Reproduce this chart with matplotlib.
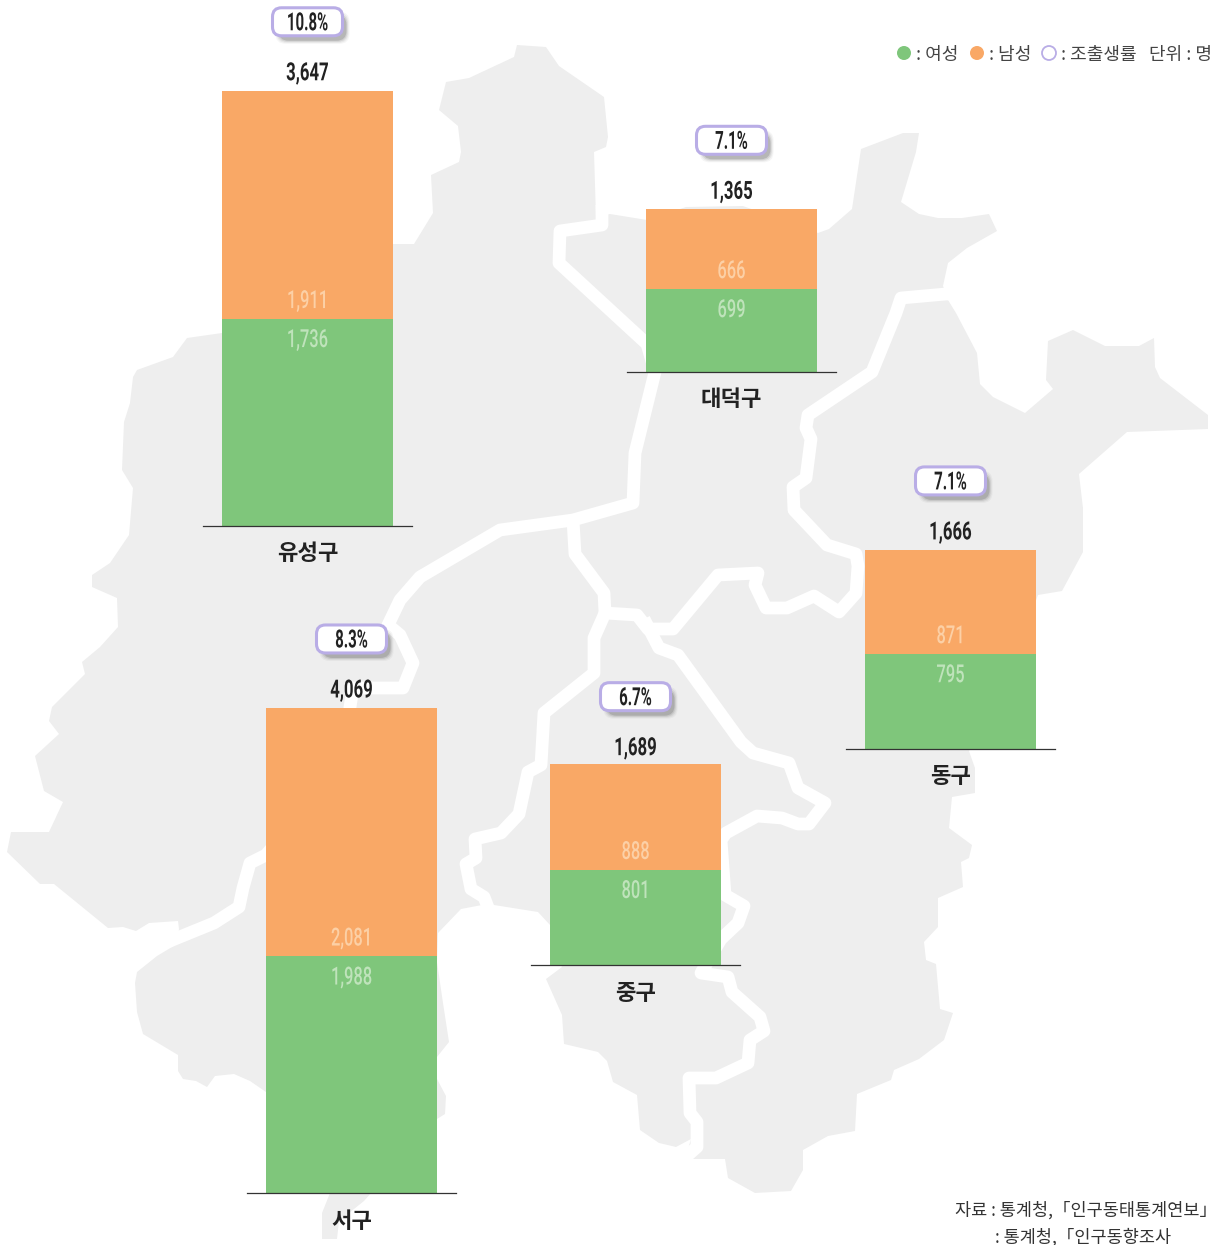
import matplotlib
matplotlib.use("Agg")
import matplotlib.pyplot as plt
from matplotlib.patches import FancyBboxPatch, Polygon, Circle
from matplotlib.patheffects import AbstractPathEffect
from matplotlib.transforms import Affine2D

# Data
districts = ["유성구", "대덕구", "동구", "서구", "중구"]
female = [1736, 699, 795, 1988, 801]
male = [1911, 666, 871, 2081, 888]
totals = [3647, 1365, 1666, 4069, 1689]
rates = [10.8, 7.1, 7.1, 8.3, 6.7]

# Where each bar stands on the page (pixels)
centers = [307.5, 731.5, 950.5, 351.5, 635.5]
baselines = [525.5, 372, 748.5, 1193, 965]
label_lift = [0, 0, 0, 0, 2]  # the 중구 labels sit a little closer to their bar
PX_PER_PERSON = 0.1192

# Map outline (pixels)
land = [
    (222, 333), (300, 300), (390, 244), (414, 244), (433, 213), (431, 175), (459, 162), (461, 152),
    (458, 126), (439, 110), (446, 82), (469, 78), (514, 57), (517, 45), (546, 47), (559, 66),
    (604, 97), (608, 137), (606, 147), (594, 152), (596, 217), (610, 214), (647, 220), (686, 207),
    (743, 206), (818, 233), (829, 229), (852, 209), (861, 149), (903, 133), (919, 133), (916, 152),
    (901, 202), (919, 214), (938, 218), (962, 218), (989, 214), (997, 231), (967, 248), (948, 263),
    (943, 286), (948, 300), (956, 313), (977, 353), (980, 384), (993, 397), (1025, 413), (1053, 389),
    (1046, 380), (1048, 341), (1073, 330), (1105, 346), (1139, 346), (1154, 338), (1155, 367), (1160, 378),
    (1208, 415), (1208, 429), (1127, 432), (1079, 474), (1083, 508), (1083, 552), (1062, 591), (1038, 595),
    (1000, 700), (969, 751), (975, 768), (975, 793), (952, 797), (949, 828), (972, 845), (969, 858),
    (961, 862), (963, 887), (938, 898), (938, 927), (924, 942), (926, 960), (936, 964), (940, 1009),
    (953, 1013), (944, 1040), (919, 1059), (894, 1070), (891, 1080), (857, 1094), (855, 1131), (828, 1136),
    (803, 1150), (803, 1170), (791, 1191), (755, 1193), (728, 1178), (725, 1159), (685, 1159), (691, 1139),
    (676, 1147), (659, 1143), (640, 1130), (637, 1095), (613, 1082), (607, 1061), (598, 1052), (564, 1044),
    (562, 1015), (546, 979), (562, 967), (550, 940), (550, 925), (538, 912), (494, 905), (482, 905),
    (461, 909), (438, 933), (437, 962), (443, 1003), (449, 1042), (437, 1057), (425, 1068), (437, 1079),
    (446, 1096), (445, 1114), (437, 1119), (364, 1201), (339, 1221), (337, 1239), (322, 1239), (322, 1213),
    (330, 1193), (300, 1150), (266, 1092), (250, 1081), (234, 1074), (215, 1076), (207, 1087), (196, 1081),
    (183, 1079), (178, 1071), (178, 1055), (143, 1034), (137, 1012), (135, 983), (137, 972), (157, 956),
    (177, 944), (179, 929), (178, 921), (149, 923), (136, 931), (123, 927), (108, 928), (54, 884),
    (40, 884), (7, 852), (11, 832), (49, 832), (63, 802), (44, 791), (35, 756), (59, 734),
    (49, 721), (52, 707), (85, 674), (82, 662), (100, 647), (118, 627), (117, 598), (92, 587),
    (92, 575), (110, 563), (129, 535), (133, 488), (122, 470), (124, 422), (130, 403), (133, 377),
    (137, 370), (173, 357), (187, 338),
]

# White district borders
borders = [
    [(165, 943), (214, 923), (239, 907), (243, 888), (250, 863), (266, 855), (345, 760), (350, 707),
     (353, 688), (403, 688), (413, 663), (400, 635), (388, 625), (400, 600), (420, 577), (500, 530),
     (573, 520), (633, 503), (635, 453), (655, 372), (647, 344), (559, 263), (560, 231), (602, 225),
     (602, 205)],
    [(573, 520), (575, 554), (604, 593), (605, 613), (637, 615), (648, 629), (673, 629), (718, 575),
     (758, 573), (755, 585), (766, 608), (787, 608), (814, 596), (839, 612), (856, 593), (858, 566),
     (856, 554), (827, 545), (794, 510), (793, 487), (806, 478), (811, 439), (806, 428), (808, 415),
     (872, 372), (896, 313), (901, 298), (946, 294), (960, 294)],
    [(605, 613), (594, 638), (594, 673), (544, 713), (541, 765), (528, 772), (519, 814), (501, 833),
     (475, 839), (476, 858), (466, 864), (471, 889), (484, 897), (489, 910)],
    [(644, 619), (659, 648), (678, 655), (741, 742), (753, 753), (789, 763), (798, 788), (825, 803),
     (809, 824), (798, 824), (782, 818), (757, 816), (726, 833), (721, 840), (725, 895), (744, 906),
     (738, 923), (721, 939), (701, 973), (728, 977), (732, 992), (760, 1017), (764, 1031), (750, 1040),
     (748, 1063), (716, 1078), (689, 1078), (690, 1113), (697, 1122), (697, 1147), (680, 1162)],
]

GREEN = "#7fc67b"
ORANGE = "#f9a866"
PURPLE = "#b9ade6"
GREY = "#eeeeee"
DARK = "#222222"
num_font = "Roboto"
kr_font = ["Noto Sans CJK KR", "DejaVu Sans"]


class Narrow(AbstractPathEffect):
    # the numbers in the original use a condensed face, so squeeze Roboto around the text centre
    def __init__(self, cx, sx):
        super().__init__()
        self.squeeze = Affine2D().translate(-cx, 0).scale(sx, 1).translate(cx, 0)

    def draw_path(self, renderer, gc, tpath, affine, rgbFace=None):
        renderer.draw_path(gc, tpath, affine + self.squeeze, rgbFace)


def number(x, y, label, color, sx, weight="bold", size=18):
    ax.text(x, y + 1.5, label, ha="center", va="center", color=color, family=num_font, fontsize=size,
            fontweight=weight, zorder=7, path_effects=[Narrow(x, sx)])


fig = plt.figure(figsize=(12.18, 12.45), dpi=100)
ax = fig.add_axes([0, 0, 1, 1])
ax.set_xlim(0, 1218)
ax.set_ylim(1245, 0)
ax.axis("off")

# Map
ax.add_patch(Polygon(land, closed=True, facecolor=GREY, edgecolor="none", zorder=1))
for line in borders:
    xs = [p[0] for p in line]
    ys = [p[1] for p in line]
    ax.plot(xs, ys, color="white", lw=9.2, solid_joinstyle="round", solid_capstyle="butt", zorder=2)

# Bars
for i, name in enumerate(districts):
    x = centers[i]
    base = baselines[i]
    f_h = female[i] * PX_PER_PERSON
    m_h = male[i] * PX_PER_PERSON
    ax.bar(x, -f_h, bottom=base, width=171, color=GREEN, zorder=3)
    ax.bar(x, -m_h, bottom=base - f_h, width=171, color=ORANGE, zorder=3)
    ax.plot([x - 104.5, x + 104.5], [base, base], color="#333333", lw=0.9, zorder=4)

    split = base - f_h
    top = split - m_h
    number(x, split - 19, f"{male[i]:,}", "#fcd0a6", 0.66, weight="medium")
    number(x, split + 20, f"{female[i]:,}", "#bfe3bb", 0.66, weight="medium")
    number(x, top - 19 + label_lift[i], f"{totals[i]:,}", DARK, 0.67)
    ax.text(x, base + 28, name, ha="center", va="center", color=DARK,
            family=kr_font, fontsize=16, fontweight="bold", zorder=5)

    # Rate badge with soft shadow
    by = top - 69 + label_lift[i]
    for grow, alpha in [(3, 0.05), (2, 0.08), (1, 0.12), (0, 0.2)]:
        ax.add_patch(FancyBboxPatch((x - 31 + 5 - grow, by - 10 + 6 - grow), 62 + 2 * grow, 20 + 2 * grow,
                                    boxstyle="round,pad=3,rounding_size=10", facecolor="#444444",
                                    edgecolor="none", alpha=alpha, zorder=5))
    ax.add_patch(FancyBboxPatch((x - 33, by - 12), 66, 24, boxstyle="round,pad=2,rounding_size=9",
                                facecolor="white", edgecolor=PURPLE, lw=2.2, zorder=6))
    number(x, by, f"{rates[i]}%", DARK, 0.6)

# Legend
ax.add_patch(Circle((904, 53), 7, facecolor=GREEN, edgecolor="none", zorder=5))
ax.add_patch(Circle((977, 53), 7, facecolor=ORANGE, edgecolor="none", zorder=5))
ax.add_patch(Circle((1049, 53), 7, facecolor="white", edgecolor=PURPLE, lw=1.3, zorder=5))
legend_texts = [(916, ": 여성"), (989, ": 남성"), (1061, ": 조출생률"), (1149, "단위 : 명")]
for lx, label in legend_texts:
    ax.text(lx, 55, label, ha="left", va="center", color="#444444", family=kr_font, fontsize=13, zorder=5)

# Source
ax.text(955, 1210, "자료 : 통계청,「인구동태통계연보」", ha="left", va="center", color="#333333",
        family=kr_font, fontsize=12.6, zorder=5)
ax.text(995, 1237, ": 통계청,「인구동향조사", ha="left", va="center", color="#333333",
        family=kr_font, fontsize=12.6, zorder=5)

fig.savefig("out.png", dpi=100)
